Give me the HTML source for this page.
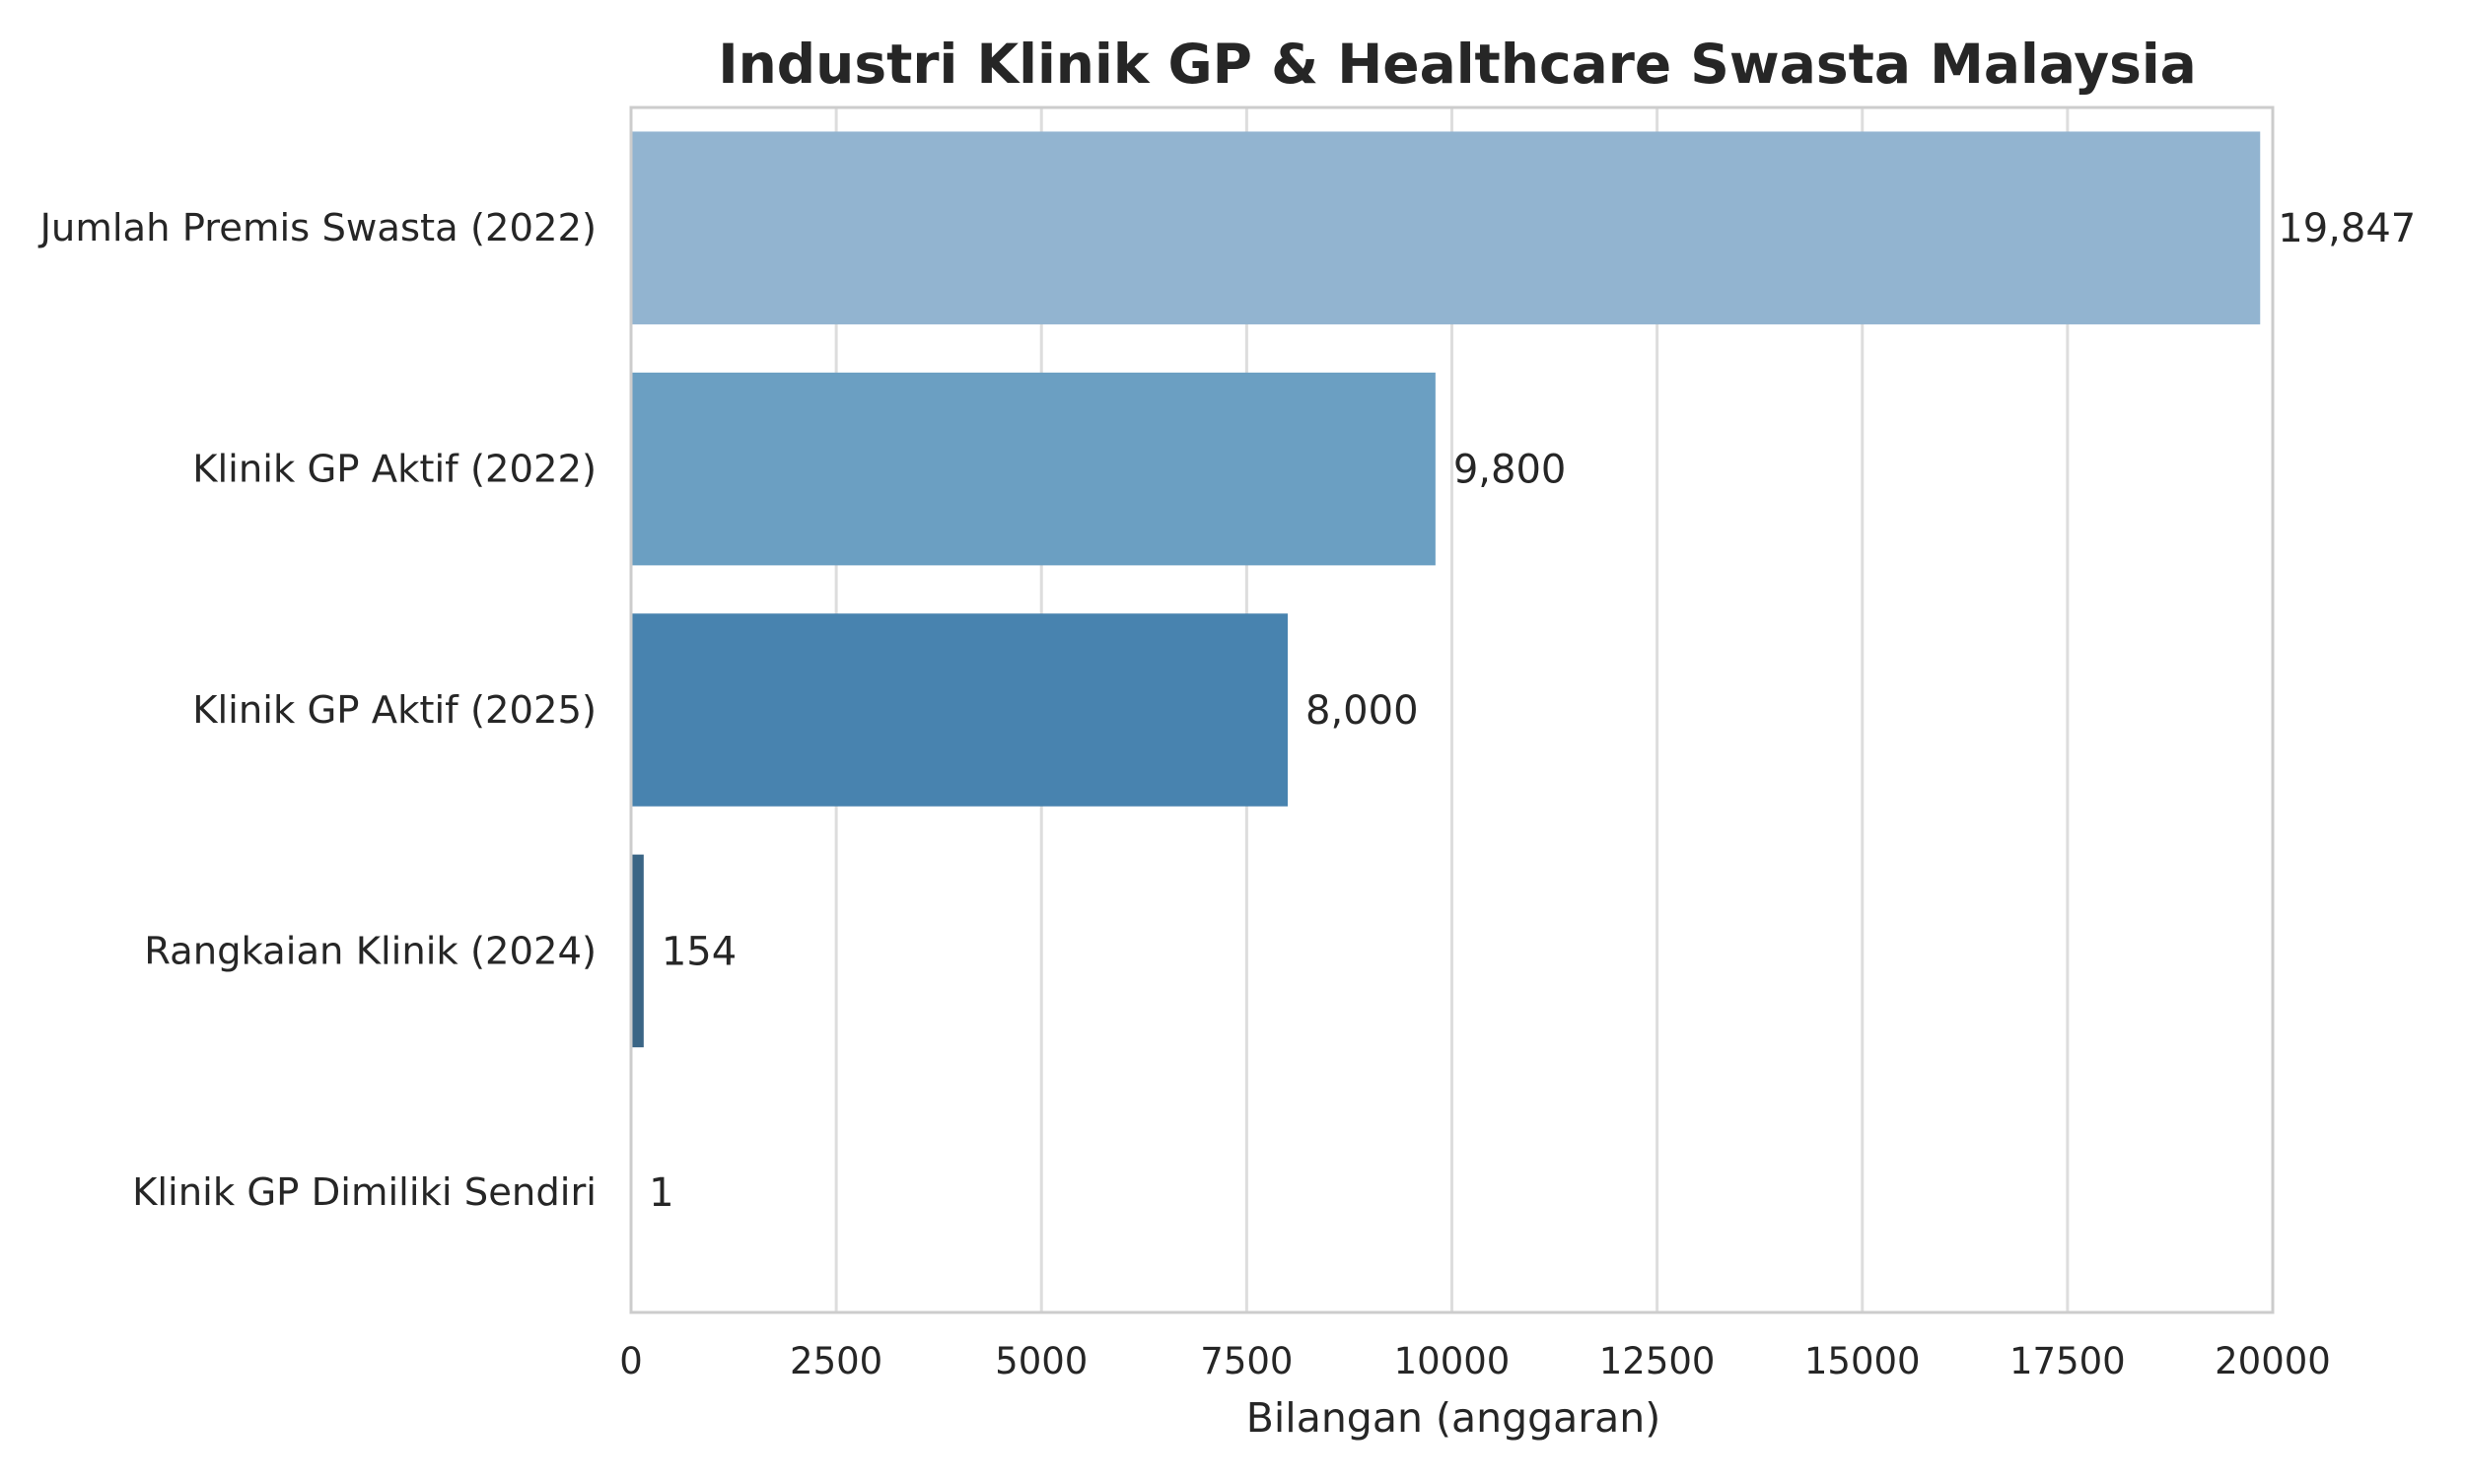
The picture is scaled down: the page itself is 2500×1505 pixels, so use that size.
<!DOCTYPE html>
<html><head><meta charset="utf-8"><style>
body{margin:0;background:#fff;}
text{font-family:"DejaVu Sans","Liberation Sans",sans-serif;fill:#262626;}
</style></head><body>
<svg id="chart" width="2500" height="1500" viewBox="0 0 2500 1500" xmlns="http://www.w3.org/2000/svg">
<rect width="2500" height="1500" fill="#fff"/>
<g id="grid"></g><g id="bars"></g><g id="labels"></g>
<rect x="640" y="109" width="1665" height="1222" fill="none" stroke="#cccccc" stroke-width="3"/>
<text x="1478" y="84" text-anchor="middle" font-size="55" font-weight="bold">Industri Klinik GP &amp; Healthcare Swasta Malaysia</text>
<text x="1474" y="1452" text-anchor="middle" font-size="41">Bilangan (anggaran)</text>
</svg>
<script>
const categories = ["Jumlah Premis Swasta (2022)","Klinik GP Aktif (2022)","Klinik GP Aktif (2025)","Rangkaian Klinik (2024)","Klinik GP Dimiliki Sendiri"];
const values = [19847, 9800, 8000, 154, 1];
const valueLabels = ["19,847","9,800","8,000","154","1"];
const ticks = [0,2500,5000,7500,10000,12500,15000,17500,20000];
const colors = ["#92b4d0","#6b9fc2","#4883af","#3a6585","#2d4a60"];
const L=640,R=2305,T=109,B=1331,NS="http://www.w3.org/2000/svg";
const x=v=>L+(v/20000)*(R-L);
const band=(B-T)/categories.length;
const yc=i=>T+band*(i+0.5);
const mk=(t,a,p)=>{const e=document.createElementNS(NS,t);for(const k in a)e.setAttribute(k,a[k]);p.appendChild(e);return e;};
const g=document.getElementById('grid'),b=document.getElementById('bars'),lb=document.getElementById('labels');
ticks.forEach(t=>{
 const l=mk('line',{x1:x(t),x2:x(t),y1:T,y2:B,stroke:'#dddddd','stroke-width':3},g);
 
 
 const tx=mk('text',{x:x(t),y:1393,'text-anchor':'middle','font-size':37},lb);
 tx.textContent=t;
 
 
});
categories.forEach((c,i)=>{
 const h=band*0.8;
 const r=mk('rect',{x:L,y:yc(i)-h/2,width:x(values[i])-L,height:h,fill:colors[i]},b);
 
 
 const ct=mk('text',{x:605,y:yc(i)+13,'text-anchor':'end','font-size':38.5},lb);
 ct.textContent=c;
 
 
 const vt=mk('text',{x:x(values[i])+18,y:yc(i)+14,'font-size':40},lb);
 vt.textContent=valueLabels[i];
 
 
});
</script>
</body></html>
